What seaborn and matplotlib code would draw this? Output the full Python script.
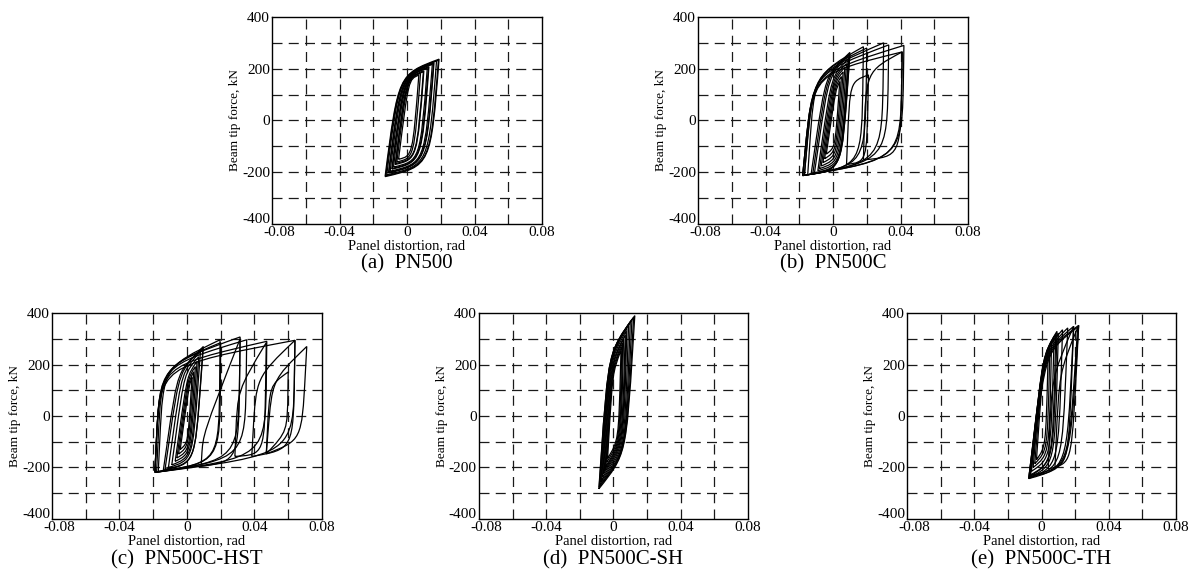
import matplotlib
matplotlib.use("Agg")
import numpy as np
import matplotlib.pyplot as plt
import matplotlib.transforms as mtransforms
from matplotlib.path import Path
from matplotlib.patches import PathPatch
import seaborn as sns

# each loop: x_neg, f_neg, x_pos, f_pos, x_knee_up, f_knee_up, x_knee_down, f_knee_down
# (distortion in rad, force in kN)
loops_pn500 = [
    [-0.0050, -150, 0.0070, 175, 0.0009, 160, 0.0033, -137],
    [-0.0060, -160, 0.0080, 182, 0.0001, 163, 0.0042, -145],
    [-0.0070, -170, 0.0100, 192, -0.0006, 166, 0.0060, -150],
    [-0.0067, -166, 0.0097, 188, -0.0005, 164, 0.0058, -147],
    [-0.0080, -180, 0.0120, 202, -0.0014, 169, 0.0078, -156],
    [-0.0090, -188, 0.0130, 208, -0.0021, 171, 0.0087, -161],
    [-0.0087, -185, 0.0127, 205, -0.0019, 170, 0.0084, -159],
    [-0.0100, -196, 0.0150, 217, -0.0029, 173, 0.0105, -165],
    [-0.0110, -203, 0.0160, 223, -0.0037, 175, 0.0114, -169],
    [-0.0107, -200, 0.0157, 220, -0.0035, 173, 0.0112, -167],
    [-0.0120, -210, 0.0175, 230, -0.0045, 177, 0.0128, -172],
    [-0.0130, -217, 0.0190, 237, -0.0052, 178, 0.0141, -176],
    [-0.0126, -214, 0.0186, 233, -0.0050, 176, 0.0138, -174],
]

loops_pn500c = [
    [-0.0040, -130, 0.0040, 150, 0.0016, 120, 0.0012, -105],
    [-0.0050, -148, 0.0050, 170, 0.0013, 135, 0.0018, -120],
    [-0.0060, -163, 0.0060, 188, 0.0010, 150, 0.0024, -135],
    [-0.0070, -176, 0.0070, 205, 0.0005, 160, 0.0031, -148],
    [-0.0080, -186, 0.0080, 220, -0.0001, 168, 0.0038, -160],
    [-0.0090, -194, 0.0090, 238, -0.0009, 172, 0.0045, -170],
    [-0.0110, -202, 0.0100, 255, -0.0026, 175, 0.0052, -180],
    [-0.0120, -206, 0.0100, 263, -0.0035, 177, 0.0050, -186],
    [-0.0130, -208, 0.0095, 255, -0.0044, 178, 0.0046, -190],
    [-0.0150, -210, 0.0180, 285, -0.0110, 178, 0.0170, -175],
    [-0.0170, -212, 0.0200, 280, -0.0115, 180, 0.0190, -172],
    [-0.0180, -213, 0.0300, 300, -0.0120, 181, 0.0290, -160],
    [-0.0180, -213, 0.0330, 292, -0.0120, 181, 0.0320, -155],
    [-0.0180, -213, 0.0420, 290, -0.0120, 181, 0.0410, -148],
    [-0.0170, -212, 0.0410, 265, -0.0118, 180, 0.0400, -150],
    [0.0080, -170, 0.0210, 176, 0.0100, 150, 0.0200, -160],
    [0.0180, -152, 0.0410, 265, 0.0195, 190, 0.0400, -140],
]

loops_pn500c_hst = [
    [-0.0040, -130, 0.0030, 150, 0.0013, 120, 0.0005, -105],
    [-0.0050, -148, 0.0040, 172, 0.0010, 135, 0.0008, -120],
    [-0.0060, -163, 0.0050, 192, 0.0007, 150, 0.0014, -135],
    [-0.0070, -176, 0.0060, 212, 0.0002, 160, 0.0019, -148],
    [-0.0090, -190, 0.0070, 230, -0.0015, 168, 0.0027, -160],
    [-0.0110, -200, 0.0080, 250, -0.0030, 172, 0.0032, -172],
    [-0.0130, -207, 0.0097, 270, -0.0045, 175, 0.0047, -182],
    [-0.0140, -210, 0.0095, 262, -0.0055, 177, 0.0046, -186],
    [-0.0170, -215, 0.0196, 296, -0.0140, 190, 0.0190, -180],
    [-0.0180, -217, 0.0200, 285, -0.0150, 190, 0.0195, -180],
    [-0.0190, -219, 0.0315, 307, -0.0160, 195, 0.0305, -170],
    [-0.0190, -219, 0.0354, 296, -0.0160, 195, 0.0345, -165],
    [-0.0190, -219, 0.0473, 290, -0.0160, 195, 0.0465, -160],
    [-0.0190, -219, 0.0640, 294, -0.0160, 195, 0.0630, -150],
    [0.0084, -195, 0.0315, 300, 0.0095, -70, 0.0305, -175],
    [0.0284, -157, 0.0470, 285, 0.0300, 100, 0.0460, -150],
    [0.0384, -157, 0.0640, 294, 0.0410, 150, 0.0630, -130],
    [0.0470, -147, 0.0710, 270, 0.0505, 140, 0.0680, -95],
    [0.0470, -147, 0.0600, 171, 0.0490, 120, 0.0595, -60],
]

loops_pn500c_sh = [
    [-0.0035, -165, 0.0045, 255, -0.0005, 170, 0.0030, -95],
    [-0.0040, -180, 0.0050, 270, -0.0008, 180, 0.0035, -100],
    [-0.0045, -195, 0.0055, 285, -0.0010, 190, 0.0040, -105],
    [-0.0050, -205, 0.0060, 300, -0.0013, 200, 0.0045, -110],
    [-0.0055, -215, 0.0070, 315, -0.0016, 210, 0.0050, -115],
    [-0.0060, -225, 0.0075, 330, -0.0019, 220, 0.0055, -120],
    [-0.0065, -237, 0.0080, 345, -0.0022, 228, 0.0060, -125],
    [-0.0070, -248, 0.0090, 355, -0.0025, 235, 0.0065, -132],
    [-0.0075, -258, 0.0100, 365, -0.0027, 240, 0.0070, -138],
    [-0.0080, -268, 0.0110, 375, -0.0028, 245, 0.0072, -143],
    [-0.0085, -276, 0.0120, 383, -0.0030, 248, 0.0074, -147],
    [-0.0087, -283, 0.0127, 390, -0.0030, 250, 0.0075, -150],
]

loops_pn500c_th = [
    [-0.0030, -170, 0.0040, 250, 0.0005, 160, 0.0025, -120],
    [-0.0040, -185, 0.0050, 270, 0.0005, 185, 0.0035, -135],
    [-0.0050, -200, 0.0060, 290, 0.0005, 205, 0.0045, -150],
    [-0.0060, -215, 0.0075, 310, 0.0008, 225, 0.0055, -165],
    [-0.0070, -230, 0.0092, 329, 0.0010, 240, 0.0070, -180],
    [-0.0075, -240, 0.0100, 322, 0.0012, 245, 0.0078, -190],
    [-0.0070, -235, 0.0085, 318, 0.0008, 238, 0.0065, -180],
    [-0.0076, -243, 0.0125, 335, 0.0015, 250, 0.0100, -195],
    [-0.0070, -238, 0.0156, 342, 0.0018, 252, 0.0122, -200],
    [-0.0076, -243, 0.0191, 348, 0.0020, 255, 0.0150, -203],
    [-0.0070, -236, 0.0221, 352, 0.0020, 255, 0.0165, -205],
    [-0.0065, -230, 0.0215, 345, 0.0025, 250, 0.0160, -200],
    [0.0040, -205, 0.0191, 348, 0.0060, 150, 0.0160, -190],
    [0.0080, -200, 0.0221, 352, 0.0105, 170, 0.0180, -175],
]

specimens = ["PN500", "PN500C", "PN500C-HST", "PN500C-SH", "PN500C-TH"]
panel_letters = ["(a)", "(b)", "(c)", "(d)", "(e)"]
all_loops = [loops_pn500, loops_pn500c, loops_pn500c_hst, loops_pn500c_sh, loops_pn500c_th]

x_ticks = [-0.08, -0.04, 0, 0.04, 0.08]
x_tick_labels = ["-0.08", "-0.04", "0", "0.04", "0.08"]
y_ticks = [-400, -200, 0, 200, 400]
y_tick_labels = ["-400", "-200", "0", "200", "400"]
x_grid = [-0.06, -0.04, -0.02, 0, 0.02, 0.04, 0.06]
y_grid = [-300, -200, -100, 0, 100, 200, 300]

# how much of each branch runs straight before it bends into the knee
corner_straight = [0.0, 0.25, 0.3, 0.2, 0.2]


def loop_patch(row, straight):
    xn, fn, xp, fp, xu, fu, xd, fd = row
    p0 = np.array([xn, fn])
    p3 = np.array([xp, fp])
    ku = np.array([xu, fu])
    kd = np.array([xd, fd])
    a_up = p0 + straight * (ku - p0)
    a_dn = p3 + straight * (kd - p3)
    verts = [p0, a_up, ku, ku, p3, a_dn, kd, kd, p0]
    codes = [Path.MOVETO, Path.LINETO, Path.CURVE4, Path.CURVE4, Path.CURVE4,
             Path.LINETO, Path.CURVE4, Path.CURVE4, Path.CURVE4]
    return PathPatch(Path(verts, codes), facecolor="none", edgecolor="black",
                     linewidth=0.9, zorder=3)


sns.set_theme(style="white")
plt.rcParams["font.family"] = ["Liberation Serif", "DejaVu Serif"]

fig = plt.figure(figsize=(11.92, 5.83), dpi=100)

boxes = [
    [0.2282, 0.6158, 0.2265, 0.3551],
    [0.5856, 0.6158, 0.2265, 0.3551],
    [0.0436, 0.1098, 0.2265, 0.3533],
    [0.4018, 0.1098, 0.2257, 0.3533],
    [0.7609, 0.1098, 0.2257, 0.3533],
]
caption_y = [0.5480, 0.5480, 0.0400, 0.0400, 0.0400]

for i, box in enumerate(boxes):
    ax = fig.add_axes(box)
    ax.set_xlim(-0.08, 0.08)
    ax.set_ylim(-400, 400)
    for gx in x_grid:
        ax.axvline(gx, color="#1a1a1a", linewidth=0.9, linestyle=(0, (8, 5)), zorder=1)
    for gy in y_grid:
        ax.axhline(gy, color="#1a1a1a", linewidth=0.9, linestyle=(0, (8, 5)), zorder=1)
    for row in all_loops[i]:
        ax.add_patch(loop_patch(row, corner_straight[i]))
    ax.set_xticks(x_ticks, labels=x_tick_labels)
    ax.set_yticks(y_ticks, labels=y_tick_labels)
    ax.tick_params(length=0, pad=1.5, labelsize=11, colors="black")
    ax.set_xlabel("Panel distortion, rad", fontsize=10.5, labelpad=0, color="black")
    ax.set_ylabel("Beam tip force, kN", fontsize=9.5, labelpad=0.5, color="black")
    for sp in ax.spines.values():
        sp.set_visible(True)
        sp.set_color("black")
        sp.set_linewidth(1.0)

    # the corner labels "-400" and "-0.08" touch in the original; nudge them apart a little
    lift = mtransforms.ScaledTranslation(0, 4 / 72, fig.dpi_scale_trans)
    shift = mtransforms.ScaledTranslation(5 / 72, 0, fig.dpi_scale_trans)
    low_y = ax.get_yticklabels()[0]
    low_y.set_transform(low_y.get_transform() + lift)
    left_x = ax.get_xticklabels()[0]
    left_x.set_transform(left_x.get_transform() + shift)

    fig.text(box[0] + box[2] / 2, caption_y[i], panel_letters[i] + "  " + specimens[i],
             ha="center", va="center", fontsize=15, color="black")

fig.savefig("out.png", dpi=100, facecolor="white")
